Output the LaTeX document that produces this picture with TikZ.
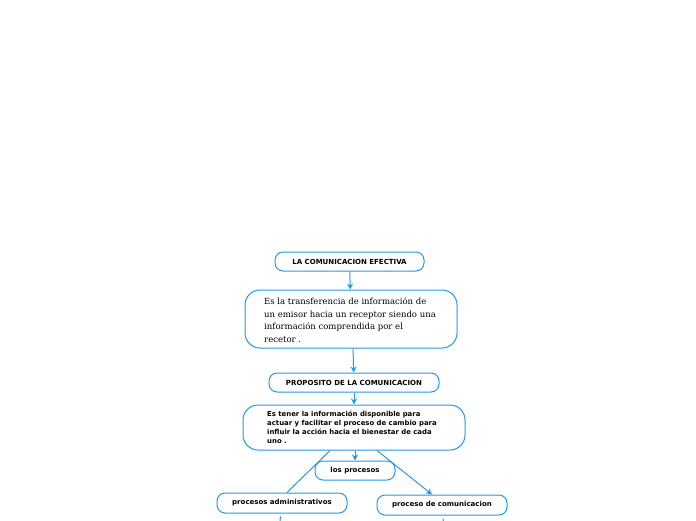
\documentclass[tikz,border=0pt]{standalone}
\usepackage{fontspec}
\setmainfont{DejaVu Serif}
\newfontfamily\boxfont{DejaVu Sans}
\usetikzlibrary{arrows.meta,positioning}
\definecolor{mapblue}{RGB}{38,152,230}

\begin{document}
\begin{tikzpicture}[x=1pt, y=-1pt, >={Stealth[length=6pt,width=6pt]},
  topic/.style={draw=mapblue, line width=1pt, rounded corners=8pt, fill=white,
    font=\boxfont\bfseries\fontsize{7}{8}\selectfont, inner sep=0pt},
  textbox/.style={draw=mapblue, line width=1pt, rounded corners=15pt, fill=white, inner sep=0pt},
  link/.style={->, draw=mapblue, line width=1pt}]
  \useasboundingbox (0,0) rectangle (696,520);
  %% Main topic
  \node[topic, minimum width=149pt, minimum height=19pt] (efectiva) at (349.5,261.5)
    {LA COMUNICACION EFECTIVA};
  %% Definition
  \node[textbox, minimum width=212pt, minimum height=58pt] (definicion) at (351,319) {};
  \node[anchor=north west, align=left, inner sep=0pt,
    font=\fontsize{8.5}{12.5}\selectfont] (deftext) at (264,297.5)
    {Es la transferencia de información de\\un emisor hacia un receptor siendo una\\información comprendida por el\\recetor .};
  %% Purpose
  \node[topic, minimum width=170pt, minimum height=19pt] (proposito) at (354,382.5)
    {PROPOSITO DE LA COMUNICACION};
  \node[textbox, minimum width=222pt, minimum height=45pt] (influir) at (354,427.5) {};
  \node[anchor=north west, align=left, inner sep=0pt,
    font=\boxfont\bfseries\fontsize{6.9}{9}\selectfont] (inftext) at (267,411)
    {Es tener la información disponible para\\actuar y facilitar el proceso de cambio para\\influir la acción hacia el bienestar de cada\\uno .};
  %% Processes
  \node[topic, minimum width=80pt, minimum height=19pt] (procesos) at (355,470.5) {los procesos};
  \node[topic, minimum width=130pt, minimum height=20pt] (admin) at (282,503)
    {procesos administrativos};
  \node[topic, minimum width=130pt, minimum height=20pt] (comunic) at (442,505)
    {proceso de comunicacion};
  %% Connectors
  \draw[link] (efectiva) -- (definicion);
  \draw[link] (definicion.south) ++(2,0) -- (proposito);
  \draw[link] (proposito) -- (influir);
  \draw[link] (influir.south) ++(1,0) -- (procesos);
  \draw[link, -] (influir.south) ++(-24,0) -- ([xshift=5pt]admin.north);
  \draw[link] (influir.south) ++(23,0) -- ([xshift=-10pt]comunic.north);
  %% cut off at the bottom
  \coordinate (adminend) at (279,530);
  \coordinate (comunicend) at (444,530);
  \draw[link, shorten <=3pt] (admin) -- (adminend);
  \draw[link, shorten <=3pt] (comunic) -- (comunicend);
\end{tikzpicture}
\end{document}
